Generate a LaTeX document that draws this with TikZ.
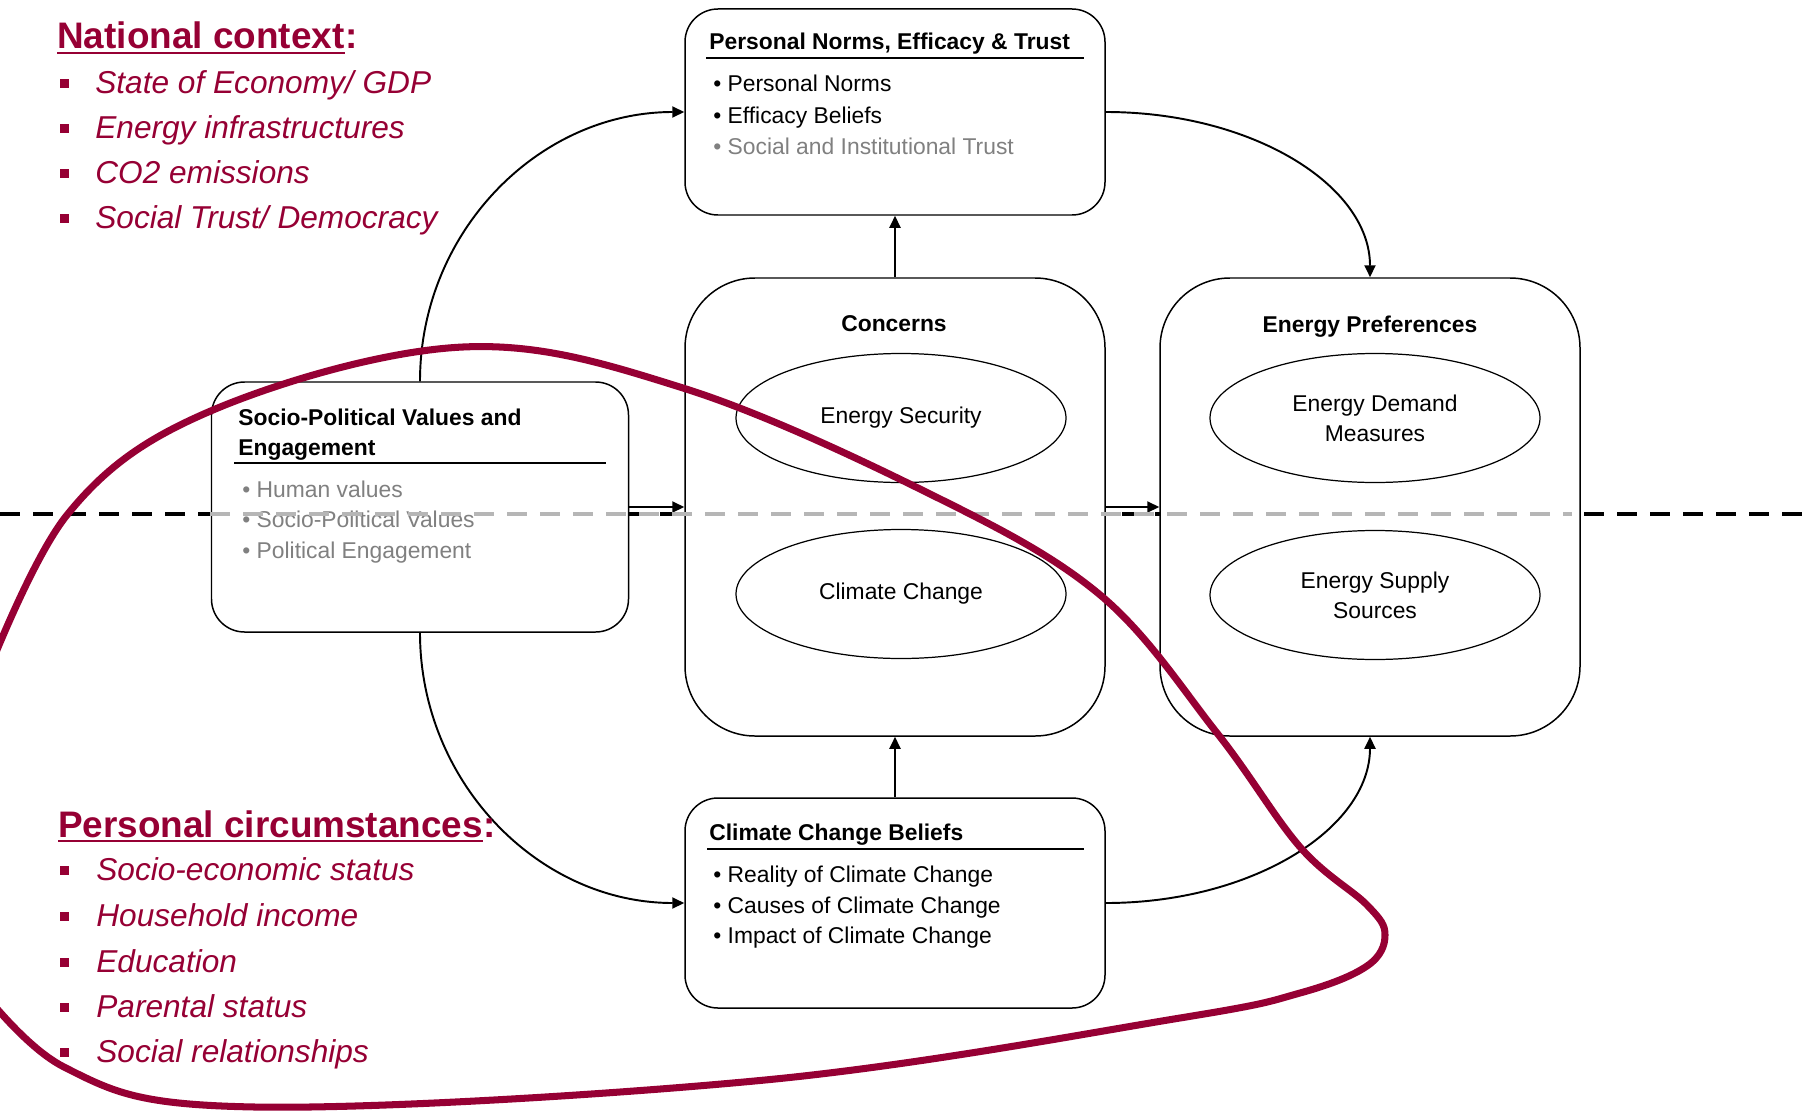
\documentclass[tikz,border=0pt]{standalone}
\usepackage{fontspec}
\setmainfont{Liberation Sans}
\usetikzlibrary{positioning, arrows.meta, shapes.geometric}
\definecolor{mainred}{RGB}{150,0,52}
\definecolor{textgray}{RGB}{128,128,128}
\definecolor{dashgray}{RGB}{182,182,182}

\begin{document}
\begin{tikzpicture}[x=0.2mm, y=-0.2mm,
  box/.style={draw, line width=0.85pt, fill=white, inner sep=0, rounded corners=0.66cm},
  bigbox/.style={box, rounded corners=1.4cm, minimum width=8.4cm, minimum height=9.16cm},
  oval/.style={draw, ellipse, line width=0.7pt, fill=white, inner sep=0, minimum width=6.6cm,
    minimum height=2.58cm, align=center, font=\fontsize{13}{17}\selectfont},
  ttl/.style={anchor=base west, inner sep=0, font=\fontsize{13}{17}\selectfont\bfseries},
  itm/.style={anchor=base west, inner sep=0, font=\fontsize{13}{17}\selectfont},
  gitm/.style={itm, text=textgray},
  ctxhead/.style={anchor=base west, inner sep=0, text=mainred, font=\fontsize{21}{25}\selectfont\bfseries},
  ctxitem/.style={anchor=base west, inner sep=0, text=mainred, font=\fontsize{18}{22}\selectfont\itshape},
  sq/.style={fill=mainred, inner sep=0, minimum size=0.18cm},
  arr/.style={-{Triangle[length=0.24cm, width=0.22cm]}, line width=1.1pt}]
  \useasboundingbox (0,0) rectangle (1814,1110);

  % national / personal divide
  \draw[line width=2.5pt, dash pattern=on 0.4cm off 0.26cm] (0,514) -- (1814,514);

  % boxes
  \node[box, minimum width=8.4cm, minimum height=4.12cm] (pnorm) at (895,112) {};
  \node[bigbox] (conc) at (895,507) {};
  \node[bigbox] (epref) at (1370,507) {};
  \node[box, minimum width=8.34cm, minimum height=5cm] (socio) at (420,507) {};
  \node[box, minimum width=8.4cm, minimum height=4.2cm] (ccb) at (895,903) {};

  % personal norms
  \node[ttl] (pnttl) at (709,50) {Personal Norms, Efficacy \& Trust};
  \draw[line width=1.1pt] (706,58) -- (1084,58);
  \node[itm] (pn1) at (713,92) {• Personal Norms};
  \node[itm] (pn2) at (713,123) {• Efficacy Beliefs};
  \node[gitm] (pn3) at (713,154) {• Social and Institutional Trust};

  % socio-political values
  \node[ttl] (spttl1) at (238,425) {Socio-Political Values and};
  \node[ttl] (spttl2) at (238,455) {Engagement};
  \draw[line width=1.1pt] (234,463) -- (606,463);
  \node[gitm] (sp1) at (242,497) {• Human values};
  \node[gitm] (sp2) at (242,527) {• Socio-Political Values};
  \node[gitm] (sp3) at (242,558) {• Political Engagement};

  % climate change beliefs
  \node[ttl] (ccbttl) at (709,840) {Climate Change Beliefs};
  \draw[line width=1.1pt] (707,849) -- (1084,849);
  \node[itm] (ccb1) at (713,882) {• Reality of Climate Change};
  \node[itm] (ccb2) at (713,913) {• Causes of Climate Change};
  \node[itm] (ccb3) at (713,943) {• Impact of Climate Change};

  % concerns and preferences
  \node[ttl, anchor=base] (conttl) at (894,331) {Concerns};
  \node[oval] (sec) at (901,418) {Energy Security};
  \node[oval] (clim) at (901,594) {Climate Change};
  \node[ttl, anchor=base] (epttl) at (1370,332) {Energy Preferences};
  \node[oval] (dem) at (1375,418) {Energy Demand\\Measures};
  \node[oval] (sup) at (1375,595) {Energy Supply\\Sources};

  % paths
  \draw[arr] (conc.north) -- (pnorm.south);
  \draw[arr] (ccb.north) -- (conc.south);
  \draw[arr] (socio.east) -- (conc.west);
  \draw[arr] (conc.east) -- (epref.west);
  \draw[arr] (socio.north) .. controls +(0,-149) and +(-146,0) .. (pnorm.west);
  \draw[arr] (pnorm.east) .. controls +(146,0) and +(0,-92) .. (epref.north);
  \draw[arr] (socio.south) .. controls +(0,149) and +(-146,0) .. (ccb.west);
  \draw[arr] (ccb.east) .. controls +(146,0) and +(0,92) .. (epref.south);

  \draw[line width=2.5pt, dashgray, dash pattern=on 0.4cm off 0.26cm] (210,514) -- (1572,514);

  % red loop
  \begin{scope}
    \clip (0,0) rectangle (1814,1110);
    \draw[mainred, line width=4pt] plot[smooth, tension=0.6] coordinates {
      (-45,955) (64,1067) (255,1107) (765,1080) (1180,1018) (1300,993) (1367,966)
      (1385,935) (1367,905) (1300,847) (1217,733) (1099,594) (926,492) (683,388)
      (463,347) (213,410) (67,515) (-25,705)};
  \end{scope}

  % national context
  \node[ctxhead] (nathead) at (57,49) {National context};
  \node[ctxhead] (natcolon) at (nathead.base east) {:};
  \draw[mainred, line width=1.4pt] ([yshift=-0.08cm]nathead.base west) -- ([yshift=-0.08cm]nathead.base east);
  \node[sq] (natb1) at (64,84) {}; \node[ctxitem] (nat1) at (95,94) {State of Economy/ GDP};
  \node[sq] (natb2) at (64,128) {}; \node[ctxitem] (nat2) at (95,138) {Energy infrastructures};
  \node[sq] (natb3) at (64,173) {}; \node[ctxitem] (nat3) at (95,183) {CO2 emissions};
  \node[sq] (natb4) at (64,218) {}; \node[ctxitem] (nat4) at (95,228) {Social Trust/ Democracy};

  % personal circumstances
  \node[ctxhead] (perhead) at (58,837) {Personal circumstances};
  \node[ctxhead] (percolon) at (perhead.base east) {:};
  \draw[mainred, line width=1.4pt] ([yshift=-0.08cm]perhead.base west) -- ([yshift=-0.08cm]perhead.base east);
  \node[sq] (perb1) at (64,870) {}; \node[ctxitem] (per1) at (96,880) {Socio-economic status};
  \node[sq] (perb2) at (64,916) {}; \node[ctxitem] (per2) at (96,926) {Household income};
  \node[sq] (perb3) at (64,962) {}; \node[ctxitem] (per3) at (96,972) {Education};
  \node[sq] (perb4) at (64,1007) {}; \node[ctxitem] (per4) at (96,1017) {Parental status};
  \node[sq] (perb5) at (64,1052) {}; \node[ctxitem] (per5) at (96,1062) {Social relationships};
\end{tikzpicture}
\end{document}
